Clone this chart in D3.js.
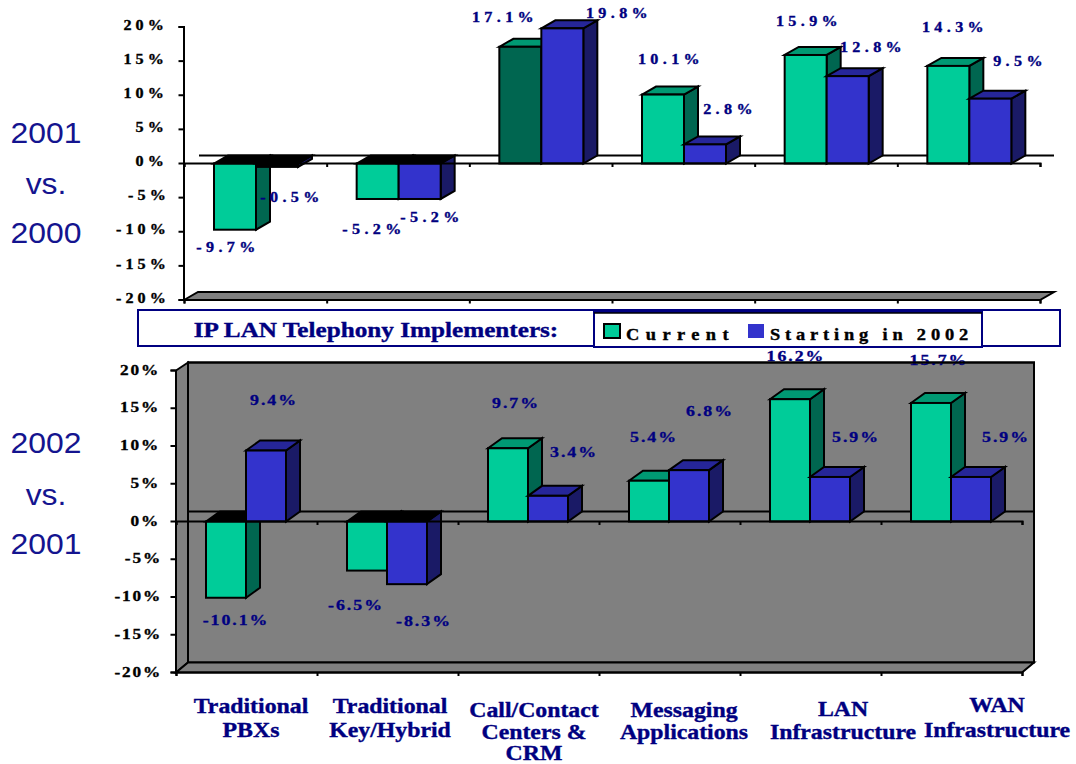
<!DOCTYPE html>
<html><head><meta charset="utf-8">
<script src="https://cdn.jsdelivr.net/npm/d3@7"></script>
<style>
html,body{margin:0;padding:0;background:#fff;overflow:hidden}
svg{display:block}
text{font-family:"Liberation Serif",serif;font-weight:bold}
</style></head><body>
<svg id="c" width="1076" height="764"></svg>
<script>
// ---- data ----
const categories = ["Traditional PBXs","Traditional Key/Hybrid","Call/Contact Centers & CRM","Messaging Applications","LAN Infrastructure","WAN Infrastructure"];
const categoryLines = [["Traditional","PBXs"],["Traditional","Key/Hybrid"],["Call/Contact","Centers &","CRM"],["Messaging","Applications"],["LAN","Infrastructure"],["WAN","Infrastructure"]];
const seriesNames = ["Current","Starting in 2002"];
const tickValues = [-20,-15,-10,-5,0,5,10,15,20];
const top_current = [-9.7,-5.2,17.1,10.1,15.9,14.3];
const top_starting = [-0.5,-5.2,19.8,2.8,12.8,9.5];
const bottom_current = [-10.1,-6.5,9.7,5.4,16.2,15.7];
const bottom_starting = [9.4,-8.3,3.4,6.8,5.9,5.9];

// ---- label placement (layout only: centre x, centre y) ----
const topLabelPos = [[[228,247],[292,197]],[[374,229],[432,217]],[[505,17],[619,13]],[[671,59],[730,109]],[[809,21],[873,47]],[[955,27],[1020,61]]];
const botLabelPos = [[[236,620],[274,400]],[[356,605],[424,621]],[[516,403],[574,452]],[[654,437],[710,411]],[[796,356],[856,437]],[[939,360],[1006,437]]];

const C = {
  cur:{front:"#00cc99",top:"#009973",side:"#006650"},
  sta:{front:"#3333cc",top:"#262699",side:"#1a1a66"},
  navy:"#000080"
};
const fmtPct = v => v.toFixed(1)+"%";
const svg = d3.select("#c");

function stretched(g,x,y,str,opt){
  return g.append("text")
    .attr("transform",`translate(${x},${y}) scale(${opt.sx||1},1)`)
    .attr("text-anchor",opt.anchor||"middle")
    .attr("dominant-baseline","central")
    .attr("font-size",opt.size)
    .attr("letter-spacing",opt.ls||0)
    .attr("fill",opt.fill)
    .attr("stroke",opt.fill)
    .attr("stroke-width",opt.sw===undefined?0.35:opt.sw)
    .text(str);
}

function drawChart(cfg){
  const g = svg.append("g");
  const y = d3.scaleLinear().domain([-20,20]).range(cfg.yRange);
  const x0 = d3.scalePoint().domain(d3.range(7)).range(cfg.xRange);
  const x = i => x0(i)+cfg.offset;
  const w = cfg.barW, dx=cfg.dx, dy=cfg.dy;
  const zero = y(0), bottom = y(-20);
  const L = cfg.xRange[0], R = cfg.xRange[1];
  const wdx = cfg.wallDx;

  // walls
  if(cfg.wall){
    g.append("rect").attr("x",L+wdx).attr("y",y(20)-dy+2).attr("width",R-L).attr("height",bottom-y(20)-2)
      .attr("fill","#808080").attr("stroke","#000").attr("stroke-width",2);
    g.append("path").attr("d",`M${L},${y(20)}L${L+wdx},${y(20)-dy+2}V${bottom-dy}L${L},${bottom}Z`)
      .attr("fill","#808080").attr("stroke","#000").attr("stroke-width",2);
  }
  // floor
  g.append("path").attr("d",`M${L},${bottom}L${L+wdx},${bottom-dy}H${R+wdx}L${R},${bottom}Z`)
    .attr("fill","#808080").attr("stroke","#000").attr("stroke-width",2);
  // back zero line
  g.append("line").attr("x1",L+wdx+(cfg.wall?0:1)).attr("x2",R+wdx).attr("y1",zero-dy).attr("y2",zero-dy)
    .attr("stroke","#000").attr("stroke-width",2);

  // bars
  const bars = g.append("g").attr("stroke","#000").attr("stroke-width",2).attr("stroke-linejoin","miter");
  const bar = (i,s,v,col,frontOverride) => {
    const x1 = x(i)+s*w, x2 = x1+w, yv = y(v);
    const t = Math.min(yv,zero), b = Math.max(yv,zero);
    bars.append("path").attr("d",`M${x2},${t}L${x2+dx},${t-dy}V${b-dy}L${x2},${b}Z`).attr("fill",col.side);
    bars.append("path").attr("d",`M${x1},${t}L${x1+dx},${t-dy}H${x2+dx}L${x2},${t}Z`).attr("fill",v<0?"#000":col.top);
    bars.append("rect").attr("x",x1).attr("y",t).attr("width",w).attr("height",b-t).attr("fill",frontOverride||col.front);
  };
  categories.forEach((c,i)=>{
    bar(i,0,cfg.cur[i],C.cur,cfg.darkFront===i?C.cur.side:null);
    bar(i,1,cfg.sta[i],C.sta, cfg.sta[i]>-1&&cfg.sta[i]<0?"#000":null);
  });

  // zero line with ticks
  const xScale = d3.scaleLinear().domain([0,6]).range(cfg.xRange);
  const xAxisZero = g.append("g").attr("transform",`translate(0,${zero-0.5})`)
    .call(d3.axisBottom(xScale).ticks(6).tickSize(4).tickFormat(""));
  const xAxisBottom = g.append("g").attr("transform",`translate(0,${bottom-0.5})`)
    .call(d3.axisBottom(xScale).ticks(6).tickSize(4).tickFormat(""));
  [xAxisZero,xAxisBottom].forEach(a=>{a.selectAll("path,line").attr("stroke","#000").attr("stroke-width",2);});

  // y axis
  const yAxis = g.append("g").attr("transform",`translate(${L-0.5},-0.5)`)
    .call(d3.axisLeft(y).tickValues(tickValues).tickSize(5).tickFormat(""));
  yAxis.selectAll("path,line").attr("stroke","#000").attr("stroke-width",2);
  tickValues.forEach(v=>{
    const s = v+"%";
    stretched(g,cfg.tickX+(v<0?2:0),y(v)+cfg.tickDy,s,{anchor:"end",size:cfg.tickSize,ls:cfg.tickLs,sx:1.15,fill:"#000"});
  });

  // value labels
  categories.forEach((c,i)=>{
    [cfg.cur[i],cfg.sta[i]].forEach((v,s)=>{
      const p = cfg.labelPos[i][s];
      stretched(g,p[0],p[1],fmtPct(v),{size:cfg.labSize,ls:cfg.labLs,sx:1.15,fill:C.navy});
    });
  });
  if(cfg.wall){
    g.append("line").attr("x1",L+wdx-1).attr("x2",R+wdx+1).attr("y1",y(20)-dy+2).attr("y2",y(20)-dy+2)
      .attr("stroke","#000").attr("stroke-width",2);
  }
}

drawChart({yRange:[300,27],xRange:[184,1040],offset:30,barW:42,dx:14,dy:8,wallDx:14,cur:top_current,sta:top_starting,
  labelPos:topLabelPos,darkFront:2,wall:false,tickX:168,tickDy:-2,tickSize:14,tickLs:3.6,labSize:14,labLs:3.8});
drawChart({yRange:[672.5,370.5],xRange:[176,1022],offset:30,barW:40,dx:14,dy:10,wallDx:12,cur:bottom_current,sta:bottom_starting,
  labelPos:botLabelPos,darkFront:-1,wall:true,tickX:160,tickDy:-1,tickSize:15,tickLs:1.6,labSize:15.5,labLs:1.7});

// side labels
const side = [[["2001",133],["vs.",184],["2000",233]],[["2002",443],["vs.",495],["2001",544]]];
side.flat().forEach(d=>{
  svg.append("text").attr("transform",`translate(46,${d[1]}) scale(1.1,1)`).attr("text-anchor","middle").attr("dominant-baseline","central")
    .attr("fill","#14148f").attr("font-size",29)
    .style("font-family","'Liberation Sans',sans-serif").style("font-weight","normal").text(d[0]);
});

// title band + legend
svg.append("rect").attr("x",138).attr("y",310).attr("width",922).attr("height",36).attr("fill","#fff").attr("stroke",C.navy).attr("stroke-width",2);
stretched(svg,376,330,"IP LAN Telephony Implementers:",{size:20,sx:1.26,fill:C.navy});
svg.append("rect").attr("x",594).attr("y",312).attr("width",388).attr("height",35).attr("fill","#fff").attr("stroke",C.navy).attr("stroke-width",2);
svg.append("line").attr("x1",594).attr("x2",982).attr("y1",313).attr("y2",313).attr("stroke","#000").attr("stroke-width",1.5);
svg.append("rect").attr("x",604).attr("y",324).attr("width",16).attr("height",14).attr("fill",C.cur.front).attr("stroke","#000").attr("stroke-width",2);
svg.append("rect").attr("x",748).attr("y",324).attr("width",16).attr("height",14).attr("fill",C.sta.front);
stretched(svg,626,335,seriesNames[0],{anchor:"start",size:16,ls:5.6,sx:1.15,fill:"#000"});
stretched(svg,770,335,seriesNames[1],{anchor:"start",size:16,ls:4.2,sx:1.15,fill:"#000"});

// category labels
const catCx = [251,390,534,684,843,997];
const catYs = [[706,730],[706,730],[710,732,753],[710,732],[709,732],[705,730]];
categoryLines.forEach((ls,i)=>ls.forEach((t,j)=>{
  stretched(svg,catCx[i],catYs[i][j],t,{size:20,sx:1.19,fill:C.navy});
}));
</script></body></html>
